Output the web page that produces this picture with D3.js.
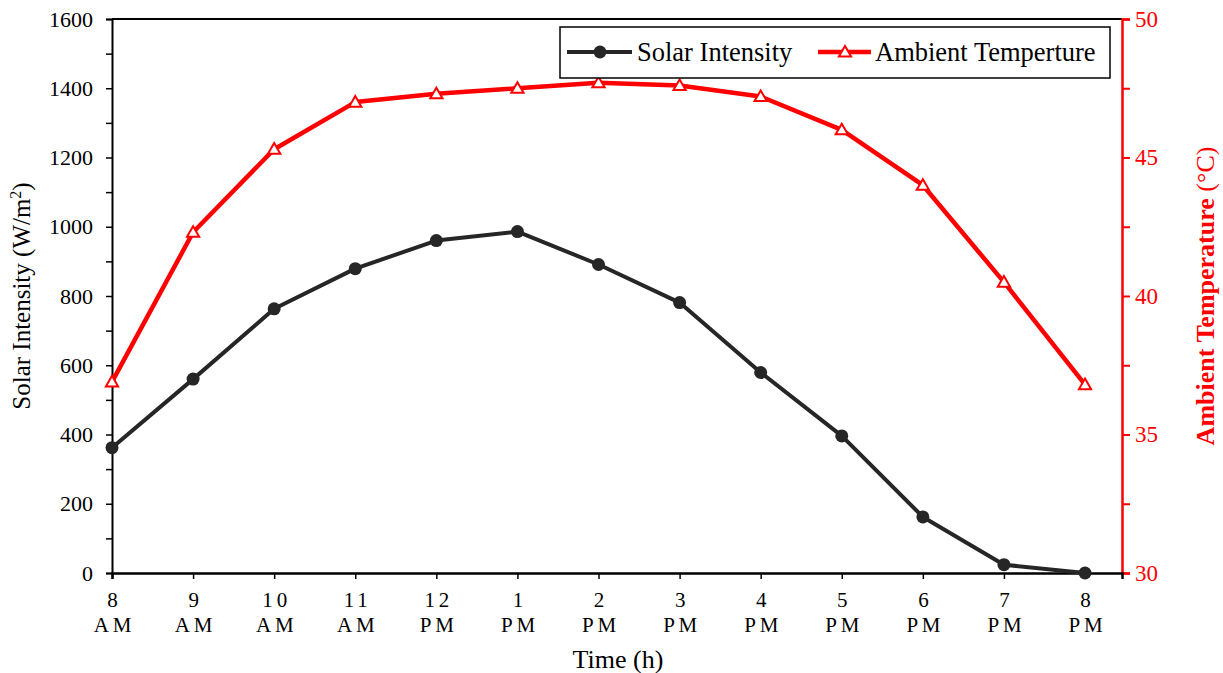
<!DOCTYPE html>
<html>
<head>
<meta charset="utf-8">
<script src="https://cdn.jsdelivr.net/npm/d3@7"></script>
<style>
  body { margin: 0; background: #fff; }
  svg text { font-family: "Liberation Serif", "Times New Roman", serif; }
</style>
</head>
<body>
<svg id="chart" width="1223" height="673"></svg>
<script>
// data
const hours = [0, 1, 2, 3, 4, 5, 6, 7, 8, 9, 10, 11, 12]
const hourTop = ["8", "9", "10", "11", "12", "1", "2", "3", "4", "5", "6", "7", "8"]
const hourBottom = ["AM", "AM", "AM", "AM", "PM", "PM", "PM", "PM", "PM", "PM", "PM", "PM", "PM"]
const solar = [362, 560, 763, 879, 960, 986, 891, 781, 579, 396, 162, 24, 0]
const temp = [36.9, 42.3, 45.3, 47.0, 47.3, 47.5, 47.7, 47.6, 47.2, 46.0, 44.0, 40.5, 36.8]
const leftTicks = [0, 200, 400, 600, 800, 1000, 1200, 1400, 1600]
const rightTicks = [30, 35, 40, 45, 50]

const svg = d3.select("#chart")
const pLeft = 112, pRight = 1122, pTop = 19, pBottom = 573
const red = "#ff0000", dark = "#262626"

const x = d3.scaleLinear().domain([0, 12.456]).range([pLeft, pRight])
const y = d3.scaleLinear().domain([0, 1600]).range([pBottom, pTop])
const y2 = d3.scaleLinear().domain([30, 50]).range([pBottom, pTop])

// top frame line
svg.append("line")
    .attr("x1", pLeft).attr("x2", pRight)
    .attr("y1", pTop).attr("y2", pTop)
    .attr("stroke", "#000").attr("stroke-width", 2)

// left axis, minor ticks every 100
let gl = svg.append("g").attr("transform", `translate(${pLeft},0)`)
gl.call(d3.axisLeft(y).tickValues(d3.range(0, 1601, 100)).tickSize(6)
    .tickFormat(d => leftTicks.includes(d) ? d : ""))
gl.select(".domain").attr("stroke", "#000").attr("stroke-width", 2)
gl.selectAll(".tick line").attr("stroke", "#000").attr("stroke-width", 1.5)
gl.selectAll(".tick text").attr("font-size", 22).attr("fill", "#000")
    .attr("font-family", "Liberation Serif").attr("x", -19)

// right axis, minor ticks every 2.5
let gr = svg.append("g").attr("transform", `translate(${pRight},0)`)
gr.call(d3.axisRight(y2).tickValues(d3.range(30, 50.1, 2.5)).tickSize(8)
    .tickFormat(d => rightTicks.includes(d) ? d : ""))
gr.select(".domain").attr("stroke", red).attr("stroke-width", 2.5)
gr.selectAll(".tick line").attr("stroke", red).attr("stroke-width", 2)
gr.selectAll(".tick text").attr("font-size", 23).attr("fill", red)
    .attr("font-family", "DejaVu Sans").attr("x", 13)

// bottom axis
let gb = svg.append("g").attr("transform", `translate(0,${pBottom})`)
gb.call(d3.axisBottom(x).tickValues(hours).tickSize(6).tickFormat(""))
gb.select(".domain").attr("stroke", "#000").attr("stroke-width", 2.5)
gb.selectAll(".tick line").attr("stroke", "#000").attr("stroke-width", 1.5)
gb.selectAll(".tick").each(function (d, i) {
    let t = d3.select(this).append("text")
        .attr("text-anchor", "middle")
        .attr("fill", "#000")
        .attr("font-size", 21)
        .attr("letter-spacing", 3.8)
    t.append("tspan").attr("x", 2).attr("y", 34).text(hourTop[i])
    t.append("tspan").attr("x", 2).attr("y", 59).text(hourBottom[i])
})

// axis titles
svg.append("text")
    .attr("transform", `translate(30,${(pTop + pBottom) / 2}) rotate(-90)`)
    .attr("text-anchor", "middle")
    .attr("font-size", 25)
    .attr("fill", "#000")
    .html("Solar Intensity (W/m<tspan dy='-9' font-size='16'>2</tspan><tspan dy='9'>)</tspan>")

svg.append("text")
    .attr("transform", `translate(1214,${(pTop + pBottom) / 2}) rotate(-90)`)
    .attr("text-anchor", "middle")
    .attr("font-size", 26)
    .attr("fill", red)
    .html("<tspan font-weight='bold'>Ambient Temperature</tspan> (°C)")

svg.append("text")
    .attr("x", 618).attr("y", 668)
    .attr("text-anchor", "middle")
    .attr("font-size", 26)
    .attr("fill", "#000")
    .text("Time (h)")

// lines
const solarLine = d3.line().x((d, i) => x(hours[i])).y(d => y(d))
const tempLine = d3.line().x((d, i) => x(hours[i])).y(d => y2(d))

svg.append("path").datum(temp)
    .attr("d", tempLine)
    .attr("fill", "none").attr("stroke", red).attr("stroke-width", 4.5)
    .attr("stroke-linejoin", "round")

const tri = d3.symbol().type(d3.symbolTriangle).size(65)
svg.selectAll(".tri").data(temp).enter()
    .append("path")
    .attr("class", "tri")
    .attr("d", tri)
    .attr("transform", (d, i) => `translate(${x(hours[i])},${y2(d) + 1})`)
    .attr("fill", "#fff").attr("stroke", red).attr("stroke-width", 2)

svg.append("path").datum(solar)
    .attr("d", solarLine)
    .attr("fill", "none").attr("stroke", dark).attr("stroke-width", 4)
    .attr("stroke-linejoin", "round")

svg.selectAll(".dot").data(solar).enter()
    .append("circle")
    .attr("class", "dot")
    .attr("cx", (d, i) => x(hours[i]))
    .attr("cy", d => y(d))
    .attr("r", 6.5)
    .attr("fill", dark)

// legend
let lg = svg.append("g")
lg.append("rect")
    .attr("x", 560).attr("y", 27).attr("width", 550).attr("height", 51)
    .attr("fill", "#fff").attr("stroke", "#000").attr("stroke-width", 1.5)
lg.append("line").attr("x1", 567).attr("x2", 632).attr("y1", 52).attr("y2", 52)
    .attr("stroke", dark).attr("stroke-width", 4)
lg.append("circle").attr("cx", 600).attr("cy", 52).attr("r", 6.5).attr("fill", dark)
lg.append("text").attr("x", 637).attr("y", 61).attr("font-size", 26.5)
    .attr("fill", "#000").text("Solar Intensity")
lg.append("line").attr("x1", 818).attr("x2", 871).attr("y1", 52).attr("y2", 52)
    .attr("stroke", red).attr("stroke-width", 4.5)
lg.append("path").attr("d", tri).attr("transform", "translate(845,53)")
    .attr("fill", "#fff").attr("stroke", red).attr("stroke-width", 2)
lg.append("text").attr("x", 875).attr("y", 61).attr("font-size", 26.5)
    .attr("fill", "#000").text("Ambient Temperture")
</script>
</body>
</html>
